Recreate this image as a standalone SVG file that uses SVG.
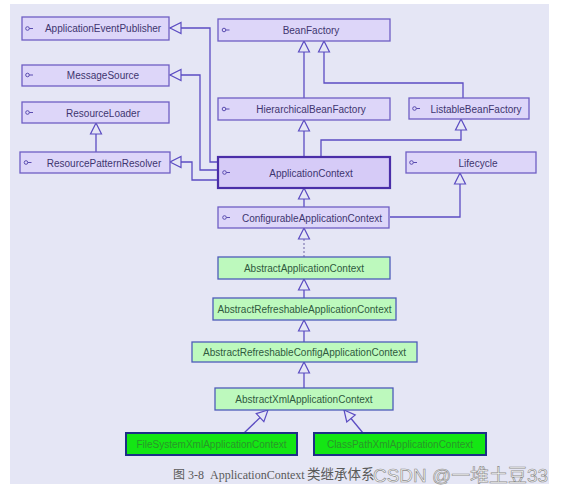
<svg xmlns="http://www.w3.org/2000/svg" width="562" height="496" viewBox="0 0 562 496">
<defs>
<style>
.bg{fill:#e5e6f5}
.itf{fill:#ddd6f9;stroke:#6f5fc4;stroke-width:1.3}
.ac{fill:#d6cbf7;stroke:#4a2ea8;stroke-width:2.2}
.abs{fill:#bdf9bd;stroke:#4e5cb8;stroke-width:1.3}
.cls{fill:#14e614;stroke:#1d2f86;stroke-width:2}
.t{font-family:"Liberation Sans",Arial,sans-serif;font-size:10px;text-anchor:middle;dominant-baseline:central}
.ti{fill:#3d356f}
.ta{fill:#2f5a3e}
.tc{fill:#2a962a}
.ico{fill:none;stroke:#5a4cb0;stroke-width:1}
.c{fill:none;stroke:#5b4cc2;stroke-width:1.3}
.d{stroke-dasharray:2,2;stroke:#8a84b8}
.cap{font-family:"Liberation Serif","Noto Sans CJK SC",serif;font-size:12px;fill:#5a5a5a}
.cj{font-family:"Noto Sans CJK SC",serif;font-size:13.5px}
.wm{font-family:"Liberation Sans","Noto Sans CJK SC",sans-serif;font-size:18px;fill:#f7f7f7;stroke:#8c8c8c;stroke-width:0.6}
</style>
<marker id="tri" viewBox="-12 -7 13 14" refX="0" refY="0" markerWidth="13" markerHeight="14" markerUnits="userSpaceOnUse" orient="auto">
<path d="M0,0 L-11,-5.5 L-11,5.5 Z" fill="#e5e6f5" stroke="#5b4cc2" stroke-width="1.2"/>
</marker>
</defs>
<rect x="0" y="0" width="562" height="496" fill="#ffffff"/>
<rect class="bg" x="10" y="4" width="539" height="480"/>

<g id="connectors">
<path class="c" d="M218,162 H210 V28 H170" marker-end="url(#tri)"/>
<path class="c" d="M218,170 H200 V75 H170" marker-end="url(#tri)"/>
<path class="c" d="M218,180 H192 V162 H170" marker-end="url(#tri)"/>
<path class="c" d="M96,152 V123" marker-end="url(#tri)"/>
<path class="c" d="M304,98 V41" marker-end="url(#tri)"/>
<path class="c" d="M463,98 V83 H324 V41" marker-end="url(#tri)"/>
<path class="c" d="M304,157 V120" marker-end="url(#tri)"/>
<path class="c" d="M321,157 V140 H461 V119" marker-end="url(#tri)"/>
<path class="c" d="M304,207 V188" marker-end="url(#tri)"/>
<path class="c" d="M390,217 H460 V173" marker-end="url(#tri)"/>
<path class="c d" d="M304,257 V228" marker-end="url(#tri)"/>
<path class="c" d="M304,298 V279" marker-end="url(#tri)"/>
<path class="c" d="M304,342 V320" marker-end="url(#tri)"/>
<path class="c" d="M304,388 V362" marker-end="url(#tri)"/>
<path class="c" d="M244,433 L268,410" marker-end="url(#tri)"/>
<path class="c" d="M363,433 L344,410" marker-end="url(#tri)"/>
</g>

<g id="ApplicationEventPublisher">
<rect class="itf" x="22" y="17" width="147" height="23"/>
<circle class="ico" cx="27.5" cy="28.5" r="1.8"/><path class="ico" d="M29.3,28.5 H33"/>
<text class="t ti" x="103" y="28.5">ApplicationEventPublisher</text>
</g>
<g id="MessageSource">
<rect class="itf" x="22" y="65" width="147" height="21"/>
<circle class="ico" cx="27.5" cy="75" r="1.8"/><path class="ico" d="M29.3,75 H33"/>
<text class="t ti" x="103" y="75.5">MessageSource</text>
</g>
<g id="ResourceLoader">
<rect class="itf" x="22" y="102" width="147" height="21"/>
<circle class="ico" cx="27.5" cy="112.5" r="1.8"/><path class="ico" d="M29.3,112.5 H33"/>
<text class="t ti" x="103" y="113">ResourceLoader</text>
</g>
<g id="ResourcePatternResolver">
<rect class="itf" x="20" y="152" width="150" height="21"/>
<circle class="ico" cx="26" cy="162.5" r="1.8"/><path class="ico" d="M27.8,162.5 H31.5"/>
<text class="t ti" x="104" y="163">ResourcePatternResolver</text>
</g>
<g id="BeanFactory">
<rect class="itf" x="218" y="19" width="172" height="22"/>
<circle class="ico" cx="224" cy="30" r="1.8"/><path class="ico" d="M225.8,30 H229.5"/>
<text class="t ti" x="311" y="30.5">BeanFactory</text>
</g>
<g id="HierarchicalBeanFactory">
<rect class="itf" x="218" y="98" width="172" height="22"/>
<circle class="ico" cx="224" cy="109" r="1.8"/><path class="ico" d="M225.8,109 H229.5"/>
<text class="t ti" x="311" y="109.5">HierarchicalBeanFactory</text>
</g>
<g id="ListableBeanFactory">
<rect class="itf" x="409" y="98" width="120" height="21"/>
<circle class="ico" cx="414.5" cy="108.5" r="1.8"/><path class="ico" d="M416.3,108.5 H420"/>
<text class="t ti" x="476" y="109">ListableBeanFactory</text>
</g>
<g id="ApplicationContext">
<rect class="ac" x="218" y="157" width="172" height="31"/>
<circle class="ico" cx="224.5" cy="172.5" r="1.8"/><path class="ico" d="M226.3,172.5 H230"/>
<text class="t ti" x="311" y="173">ApplicationContext</text>
</g>
<g id="Lifecycle">
<rect class="itf" x="406" y="152" width="130" height="21"/>
<circle class="ico" cx="411.5" cy="162.5" r="1.8"/><path class="ico" d="M413.3,162.5 H417"/>
<text class="t ti" x="478" y="163">Lifecycle</text>
</g>
<g id="ConfigurableApplicationContext">
<rect class="itf" x="218" y="207" width="171" height="21"/>
<circle class="ico" cx="224.5" cy="217.5" r="1.8"/><path class="ico" d="M226.3,217.5 H230"/>
<text class="t ti" x="312" y="218">ConfigurableApplicationContext</text>
</g>
<g id="AbstractApplicationContext">
<rect class="abs" x="218" y="257" width="172" height="22"/>
<text class="t ta" x="304" y="268.5">AbstractApplicationContext</text>
</g>
<g id="AbstractRefreshableApplicationContext">
<rect class="abs" x="213" y="298" width="183" height="22"/>
<text class="t ta" x="304.5" y="309.5">AbstractRefreshableApplicationContext</text>
</g>
<g id="AbstractRefreshableConfigApplicationContext">
<rect class="abs" x="192" y="342" width="225" height="20"/>
<text class="t ta" x="304.5" y="352.5">AbstractRefreshableConfigApplicationContext</text>
</g>
<g id="AbstractXmlApplicationContext">
<rect class="abs" x="215" y="388" width="178" height="22"/>
<text class="t ta" x="304" y="399.5">AbstractXmlApplicationContext</text>
</g>
<g id="FileSystemXmlApplicationContext">
<rect class="cls" x="126" y="433" width="171" height="22"/>
<text class="t tc" x="211.5" y="444.5">FileSystemXmlApplicationContext</text>
</g>
<g id="ClassPathXmlApplicationContext">
<rect class="cls" x="314" y="433" width="172" height="22"/>
<text class="t tc" x="400" y="444.5">ClassPathXmlApplicationContext</text>
</g>

<text class="cap" x="173" y="479">图 3-8<tspan x="210">ApplicationContext</tspan><tspan class="cj" x="307">类继承体系</tspan></text>
<text class="wm" x="373" y="482" textLength="175" lengthAdjust="spacingAndGlyphs">CSDN @一堆土豆33</text>
</svg>
